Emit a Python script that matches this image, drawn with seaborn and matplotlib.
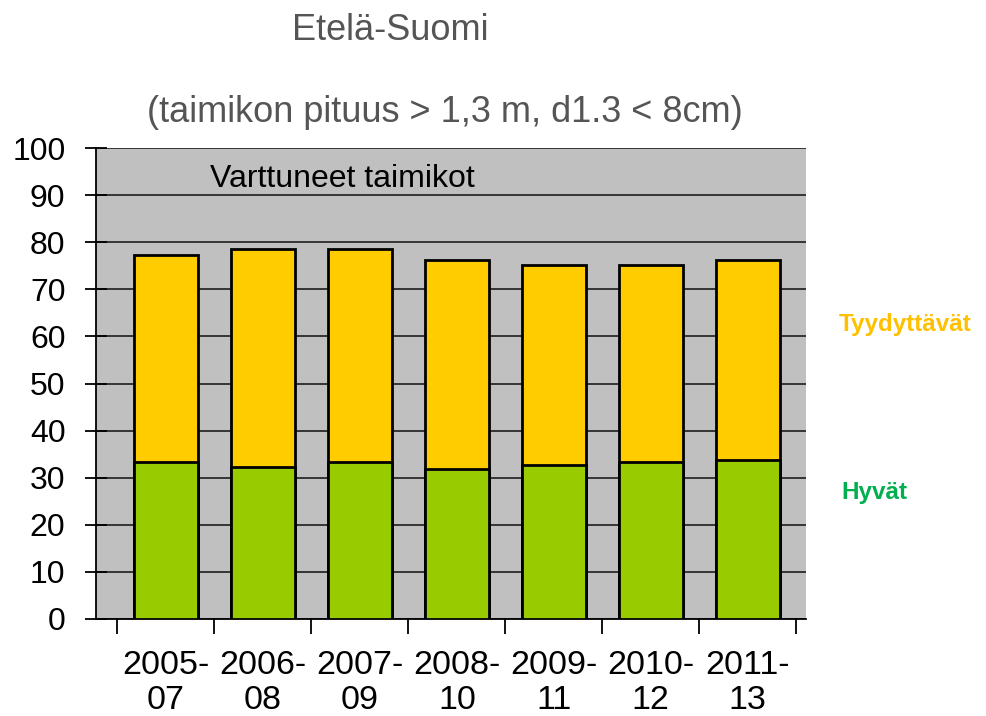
import numpy as np
import pandas as pd
import matplotlib
matplotlib.use("Agg")
import matplotlib.pyplot as plt
import seaborn as sns

### data
kaudet = ["2005-\n07", "2006-\n08", "2007-\n09", "2008-\n10", "2009-\n11", "2010-\n12", "2011-\n13"]
hyvat = [33.3, 32.3, 33.3, 31.8, 32.7, 33.3, 33.8]
tyydyttavat = [44.0, 46.3, 45.3, 44.4, 42.5, 41.9, 42.4]

sns.set_style("white")
plt.rcParams['font.family'] = ['Liberation Sans', 'DejaVu Sans']

df = pd.DataFrame({"kausi": kaudet, "hyvat": hyvat, "tyyd": tyydyttavat})
df["yhteensa"] = df["hyvat"] + df["tyyd"]

fig = plt.figure(figsize=(9.87, 7.16), dpi=100)
ax = fig.add_axes([96 / 987, 1 - 619 / 716, (806 - 96) / 987, (619 - 148) / 716])
ax.set_facecolor("#c0c0c0")

sns.barplot(data=df, x="kausi", y="yhteensa", color="#ffcc00", saturation=1,
            width=0.66, edgecolor="black", linewidth=2, ax=ax, zorder=3)
sns.barplot(data=df, x="kausi", y="hyvat", color="#99cc00", saturation=1,
            width=0.66, edgecolor="black", linewidth=2, ax=ax, zorder=3)

ax.set_ylim(0, 100)
ax.set_xlim(-0.72, 6.6)
ax.set_yticks(range(0, 101, 10))
ax.yaxis.grid(True, color="#2a2a2a", linewidth=1.3, zorder=0)
ax.set_axisbelow(True)
ax.set_xlabel("")
ax.set_ylabel("")

# x ticks between the categories
ax.set_xticks(np.arange(len(kaudet)), kaudet, fontsize=24.5, color="black")
ax.tick_params(axis="x", which="major", bottom=True, length=0, pad=22)
ax.set_xticks(np.arange(-0.5, len(kaudet)), minor=True)
ax.tick_params(axis="x", which="minor", bottom=True, length=11, width=1.3,
               direction="out", color="black")
ax.tick_params(axis="y", left=True, labelsize=23, labelcolor="black", length=16,
               width=1.3, direction="inout", color="black", pad=14)

for s in ["top", "right"]:
    ax.spines[s].set_visible(False)
for s in ["left", "bottom"]:
    ax.spines[s].set_color("black")
    ax.spines[s].set_linewidth(1.3)

ax.text(0.16, 0.935, "Varttuneet taimikot", transform=ax.transAxes, fontsize=23,
        va="center", ha="left", color="black")

fig.text(390 / 987, 1 - 30 / 716, "Etelä-Suomi", fontsize=26, ha="center", va="center", color="#555555")
fig.text(445 / 987, 1 - 112 / 716, "(taimikon pituus > 1,3 m, d1.3 < 8cm)", fontsize=26,
         ha="center", va="center", color="#555555")
fig.text(905 / 987, 1 - 325 / 716, "Tyydyttävät", fontsize=17.5, fontweight="bold",
         ha="center", va="center", color="#ffc000")
fig.text(874 / 987, 1 - 493 / 716, "Hyvät", fontsize=17.5, fontweight="bold",
         ha="center", va="center", color="#00b050")

plt.savefig("out.png", dpi=100)
plt.close()
